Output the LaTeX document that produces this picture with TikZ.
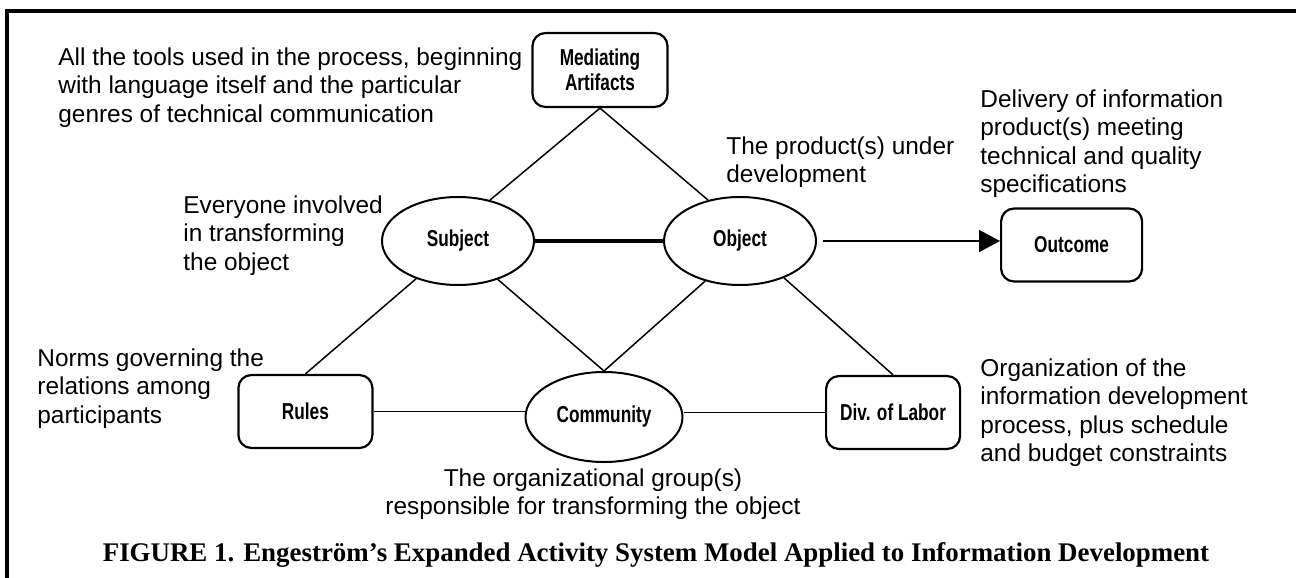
\documentclass[tikz,border=0pt]{standalone}
\usepackage{fontspec}
\setmainfont{Liberation Sans}
\newfontfamily\narrowfont{Liberation Sans}[FakeStretch=0.75]
\newfontfamily\captionfont{Liberation Serif}
\usetikzlibrary{arrows.meta, positioning, shapes.geometric}

\begin{document}
\begin{tikzpicture}[
  x=0.5pt, y=-0.5pt,
  box/.style={draw, line width=1.1pt, rounded corners=6.5pt, minimum width=67pt, minimum height=36.5pt, inner sep=0pt, align=center, font=\narrowfont\bfseries\fontsize{11.5pt}{12.5pt}\selectfont},
  oval/.style={draw, ellipse, line width=1pt, minimum width=76pt, minimum height=44pt, inner sep=0pt, font=\narrowfont\bfseries\fontsize{11.5pt}{12.5pt}\selectfont},
  note/.style={anchor=north west, align=left, inner sep=0pt, font=\fontsize{12.2pt}{14.3pt}\selectfont},
  link/.style={line width=0.75pt},
  arr/.style={-{Triangle[length=10.5pt, width=11pt]}, line width=0.85pt, shorten <=3pt}
]
\useasboundingbox (0,0) rectangle (1296,578);
\draw[line width=2pt] (6.5,578) -- (6.5,11) -- (1296,11);

% the activity triangle
\node[oval] (sub) at (458,241) {Subject};
\node[oval, right=64pt of sub] (obj) {Object};
\node[box, minimum width=70.5pt, right=91.5pt of obj, yshift=-2pt] (out) {Outcome};
\node[box, minimum width=67.5pt, minimum height=37pt] (med) at (600,70) {Mediating\\Artifacts};
\node[oval, minimum width=78.5pt, minimum height=45pt] (com) at (604,417) {Community};
\node[box, left=75.5pt of com, yshift=2.75pt] (rules) {Rules};
\node[box, right=70.75pt of com, yshift=2.25pt] (dol) {Div. of Labor};

\draw[link] (med.south) -- (sub.52);
\draw[link] (med.south) -- (obj.128);
\draw[line width=1.7pt] (sub) -- (obj);
\draw[arr] (obj.east) -- (obj.east -| out.west);
\draw[link] (rules.north) -- (sub.222);
\draw[link] (com.north) -- (sub.-44);
\draw[link] (com.north) -- (obj.229);
\draw[link] (dol.north) -- (obj.-40);
\draw[link] (rules.east) -- (rules.east -| com.west);
\draw[link] (com.east |- dol.west) -- (dol.west);

% notes round the triangle
\node[note] (tools) at (58,47) {All the tools used in the process, beginning\\with language itself and the particular\\genres of technical communication};
\node[note] (prod) at (726,136) {The product(s) under\\development};
\node[note] (deliv) at (980,89) {Delivery of information\\product(s) meeting\\technical and quality\\specifications};
\node[note] (everyone) at (183,195) {Everyone involved\\in transforming\\the object};
\node[note] (norms) at (37,348) {Norms governing the\\relations among\\participants};
\node[note] (orgdev) at (980,358) {Organization of the\\information development\\process, plus schedule\\and budget constraints};
\node[note, anchor=north, align=center] (group) at (593,468) {The organizational group(s)\\responsible for transforming the object};

\node[font=\captionfont\bfseries\fontsize{13.45pt}{15pt}\selectfont] (caption) at (656,555) {FIGURE 1. Engeström’s Expanded Activity System Model Applied to Information Development};
\end{tikzpicture}
\end{document}
